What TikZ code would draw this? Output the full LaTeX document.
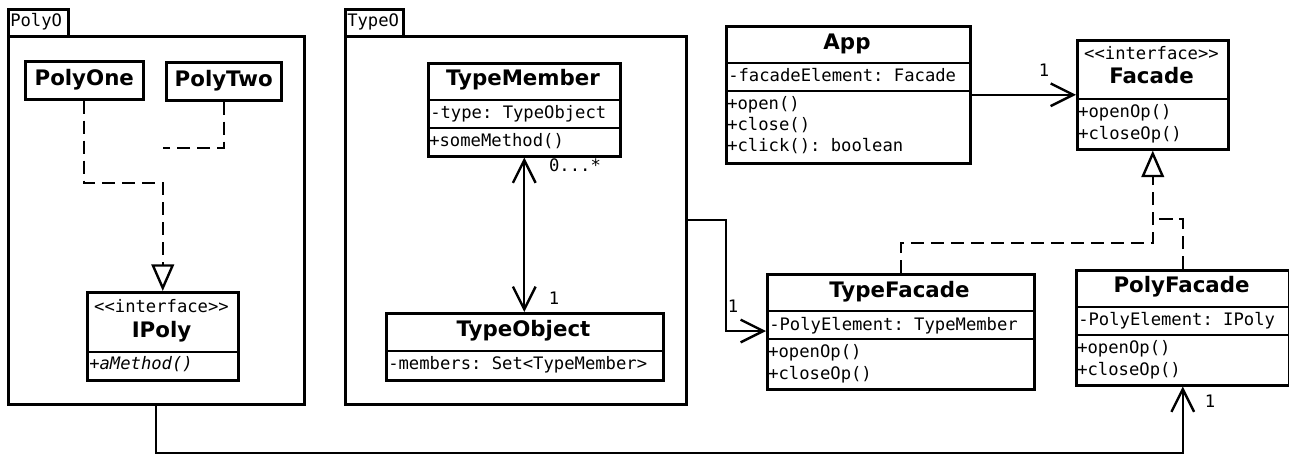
\documentclass[tikz,border=0pt]{standalone}
\usepackage{fontspec}
\setmainfont{DejaVu Sans}
\setmonofont{DejaVu Sans Mono}
\usetikzlibrary{arrows.meta}

\tikzset{
  % box from its top-left (#1,#2) to bottom-right (#3,#4), in pixel units
  boxat/.style n args={4}{minimum width={(#3-#1)*0.75pt}, minimum height={(#4-#2)*0.75pt},
    anchor=north west, at={(#1,#2)}},
  box/.style={draw, line width=1.9pt, inner sep=0pt},
  rule/.style={line width=1.5pt},
  ttl/.style={font=\fontsize{16}{19}\selectfont\bfseries, inner sep=0pt, text height=0.73em, text depth=0pt},
  mono/.style={font=\fontsize{12.9}{15}\selectfont\ttfamily, inner sep=0pt, text height=0.73em, text depth=0pt},
  memb/.style={mono, anchor=west},
  mult/.style={mono},
  assoc/.style={line width=1.8pt, -{Straight Barb[length=17pt, width=17pt]}},
  biassoc/.style={line width=1.8pt, {Straight Barb[length=17pt, width=17pt]}-{Straight Barb[length=17pt, width=17pt]}},
  dep/.style={line width=1.8pt, dash pattern=on 10pt off 5pt},
  realize/.style={dep, -{Triangle[open, length=20pt, width=17pt]}},
}

\begin{document}
\begin{tikzpicture}[x=0.75pt, y=-0.75pt]
\useasboundingbox (0,0) rectangle (1289,457);

% ---------- package PolyO ----------
\node[box, boxat={7}{8}{67}{35}] (polytab) {};
\node[memb] (polytabtxt) at (10,22) {PolyO};
\node[box, boxat={7}{35}{303}{403}] (polyo) {};

\node[box, boxat={24}{60}{142}{98}] (polyone) {};
\node[ttl] (polyonename) at (polyone.center) {PolyOne};
\node[box, boxat={165}{61}{280}{99}] (polytwo) {};
\node[ttl] (polytwoname) at (polytwo.center) {PolyTwo};

\node[box, boxat={86}{291}{237}{379}] (ipoly) {};
\draw[rule] (ipoly.west |- 0,352) -- (ipoly.east |- 0,352);
\node[mono] (ipolystereo) at (161.5,308) {<<interface>>};
\node[ttl] (ipolyname) at (161.5,333) {IPoly};
\node[memb] (ipolyop) at (89,365) {\itshape +aMethod()};

\draw[realize] (polyone.south) |- (ipoly.north |- 0,183) -- (ipoly.north);
\draw[dep] (polytwo.south) |- (ipoly.north |- 0,148);

% ---------- package TypeO ----------
\node[box, boxat={344}{8}{402}{35}] (typetab) {};
\node[memb] (typetabtxt) at (347,22) {TypeO};
\node[box, boxat={344}{35}{685}{403}] (typeo) {};

\node[box, boxat={427}{62}{619}{155}] (typemember) {};
\draw[rule] (typemember.west |- 0,100) -- (typemember.east |- 0,100);
\draw[rule] (typemember.west |- 0,128) -- (typemember.east |- 0,128);
\node[ttl] (tmname) at (523,81) {TypeMember};
\node[memb] (tmattr) at (430,114) {-type: TypeObject};
\node[memb] (tmop) at (429,142) {+someMethod()};

\node[box, boxat={385}{312}{662}{379}] (typeobject) {};
\draw[rule] (typeobject.west |- 0,351) -- (typeobject.east |- 0,351);
\node[ttl] (toname) at (523.5,332) {TypeObject};
\node[memb] (toattr) at (388,365) {-members: Set<TypeMember>};

\draw[biassoc] (typemember.south) -- (typeobject.north -| typemember.south);
\node[mult] (tmmult) at (575,167) {0...*};
\node[mult] (tomult) at (554,300) {1};

% ---------- App and Facade ----------
\node[box, boxat={725}{25}{969}{162}] (app) {};
\draw[rule] (app.west |- 0,63) -- (app.east |- 0,63);
\draw[rule] (app.west |- 0,91) -- (app.east |- 0,91);
\node[ttl] (appname) at (847,45) {App};
\node[memb] (appattr) at (728,77) {-facadeElement: Facade};
\node[memb] (appop1) at (727,105) {+open()};
\node[memb] (appop2) at (727,126) {+close()};
\node[memb] (appop3) at (727,147) {+click(): boolean};

\node[box, boxat={1076}{39}{1227}{148}] (facade) {};
\draw[rule] (facade.west |- 0,99) -- (facade.east |- 0,99);
\node[mono] (facstereo) at (1151.5,55) {<<interface>>};
\node[ttl] (facname) at (1151.5,79) {Facade};
\node[memb] (facop1) at (1078,113) {+openOp()};
\node[memb] (facop2) at (1078,135) {+closeOp()};

\draw[assoc] (app.east) -- (facade.west |- app.east);
\node[mult] (facmult) at (1044,72) {1};

% ---------- TypeFacade and PolyFacade ----------
\node[box, boxat={766}{273}{1033}{388}] (typefacade) {};
\draw[rule] (typefacade.west |- 0,311) -- (typefacade.east |- 0,311);
\draw[rule] (typefacade.west |- 0,339) -- (typefacade.east |- 0,339);
\node[ttl] (tfname) at (899.5,293) {TypeFacade};
\node[memb] (tfattr) at (769,326) {-PolyElement: TypeMember};
\node[memb] (tfop1) at (768,353) {+openOp()};
\node[memb] (tfop2) at (768,375) {+closeOp()};

\node[box, boxat={1075}{269}{1288}{384}] (polyfacade) {};
\draw[rule] (polyfacade.west |- 0,307) -- (polyfacade.east |- 0,307);
\draw[rule] (polyfacade.west |- 0,335) -- (polyfacade.east |- 0,335);
\node[ttl] (pfname) at (1181.5,288) {PolyFacade};
\node[memb] (pfattr) at (1078,321) {-PolyElement: IPoly};
\node[memb] (pfop1) at (1077,349) {+openOp()};
\node[memb] (pfop2) at (1077,371) {+closeOp()};

% realizations of Facade
\draw[realize] (typefacade.north) |- (facade.south |- 0,243) -- (facade.south);
\draw[dep] (polyfacade.north) |- (facade.south |- 0,219);

% package level associations
\draw[assoc] (typeo.east) -| (726,331) -- (typefacade.west |- 0,331);
\node[mult] (tfmult) at (733,308) {1};

\draw[assoc] (polyo.south) |- (polyfacade.south |- 0,453) -- (polyfacade.south);
\node[mult] (pfmult) at (1210,403) {1};
\end{tikzpicture}
\end{document}
